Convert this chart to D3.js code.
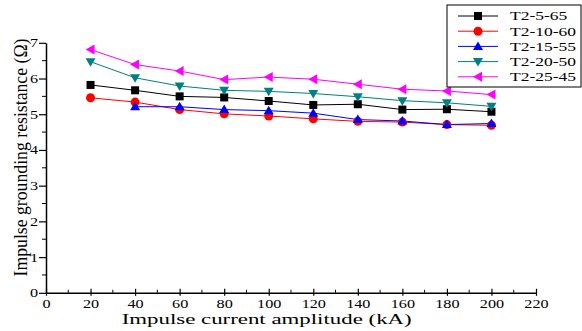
<!DOCTYPE html>
<html><head><meta charset="utf-8">
<script src="https://cdn.jsdelivr.net/npm/d3@7"></script>
<style>body{margin:0;background:#fff}svg{display:block}</style>
</head><body>
<svg id="c" width="582" height="331"></svg>
<script>
const xValues = [20, 40, 60, 80, 100, 120, 140, 160, 180, 200];
const seriesNames = ["T2-5-65", "T2-10-60", "T2-15-55", "T2-20-50", "T2-25-45"];
const t2_5_65  = [5.82, 5.67, 5.50, 5.47, 5.37, 5.26, 5.28, 5.13, 5.14, 5.07];
const t2_10_60 = [5.46, 5.34, 5.13, 5.01, 4.95, 4.87, 4.80, 4.78, 4.71, 4.69];
const t2_15_55 = [null, 5.21, 5.21, 5.13, 5.10, 5.03, 4.85, 4.81, 4.71, 4.74];
const t2_20_50 = [6.47, 6.02, 5.79, 5.67, 5.64, 5.58, 5.49, 5.38, 5.32, 5.22];
const t2_25_45 = [6.81, 6.39, 6.21, 5.97, 6.04, 5.98, 5.84, 5.70, 5.65, 5.55];
const xTicks = [0, 20, 40, 60, 80, 100, 120, 140, 160, 180, 200, 220];
const yTicks = [0, 1, 2, 3, 4, 5, 6, 7];
const colors = ["#000000", "#ff0000", "#0000ff", "#008080", "#ff00ff"];
const symbols = ["square", "circle", "triUp", "triDown", "triLeft"];
const allSeries = [t2_5_65, t2_10_60, t2_15_55, t2_20_50, t2_25_45];

const font = "'Liberation Serif','Times New Roman',serif";
const svg = d3.select("#c");
const x = d3.scaleLinear().domain([0, 220]).range([46, 536]);
const y = d3.scaleLinear().domain([0, 7]).range([292.8, 42.8]);

// minor ticks
const xMinor = d3.range(10, 220, 20);
const yMinor = d3.range(0.5, 7, 1);
svg.append("g").selectAll("line").data(xMinor).join("line")
  .attr("x1", d => x(d)).attr("x2", d => x(d))
  .attr("y1", y(0) - 3).attr("y2", y(0)).attr("stroke", "#000").attr("stroke-width", 1);
svg.append("g").selectAll("line").data(yMinor).join("line")
  .attr("y1", d => y(d)).attr("y2", d => y(d))
  .attr("x1", x(0) - 4).attr("x2", x(0)).attr("stroke", "#000").attr("stroke-width", 1);

// x axis
const gx = svg.append("g").attr("transform", `translate(0,${y(0)})`)
  .call(d3.axisBottom(x).tickValues(xTicks).tickFormat(d3.format("d")).tickSize(3).tickSizeOuter(0));
gx.select(".domain").attr("stroke-width", 1.5);
gx.selectAll(".tick line").attr("y1", -4).attr("y2", 3).attr("stroke-width", 1.2);
gx.selectAll(".tick text").attr("font-family", font).attr("font-size", 12)
  .attr("y", 0).attr("dy", 0).attr("transform", "translate(0,15) scale(1.35,1)").attr("fill", "#000");

// y axis
const gy = svg.append("g").attr("transform", `translate(${x(0)},0)`)
  .call(d3.axisLeft(y).tickValues(yTicks).tickFormat(d3.format("d")).tickSize(7).tickSizeOuter(0));
gy.select(".domain").attr("stroke-width", 1.5);
gy.selectAll(".tick line").attr("stroke-width", 1.2);
gy.selectAll(".tick text").attr("font-family", font).attr("font-size", 12)
  .attr("x", 0).attr("dy", "0.33em").attr("transform", "translate(-8,0) scale(1.35,1)").attr("fill", "#000");

// axis titles
svg.append("text").attr("x", 266.7).attr("y", 324).attr("text-anchor", "middle")
  .attr("font-family", font).attr("font-size", 14)
  .attr("textLength", 290).attr("lengthAdjust", "spacingAndGlyphs")
  .text("Impulse current amplitude (kA)");
svg.append("text").attr("transform", "translate(27,157.5) rotate(-90)").attr("text-anchor", "middle")
  .attr("font-family", font).attr("font-size", 18)
  .attr("textLength", 238).attr("lengthAdjust", "spacingAndGlyphs")
  .text("Impulse grounding resistance (Ω)");

function marker(g, type, color) {
  if (type === "square") g.append("rect").attr("x", -4).attr("y", -4).attr("width", 8).attr("height", 8).attr("fill", color);
  else if (type === "circle") g.append("circle").attr("r", 4.5).attr("fill", color);
  else if (type === "triUp") g.append("path").attr("d", "M0,-5L5,3.5L-5,3.5Z").attr("fill", color);
  else if (type === "triDown") g.append("path").attr("d", "M0,5L5,-3.5L-5,-3.5Z").attr("fill", color);
  else if (type === "triLeft") g.append("path").attr("d", "M-5,0L4,-5L4,5Z").attr("fill", color);
}

const line = d3.line().defined(d => d[1] != null).x(d => x(d[0])).y(d => y(d[1]));
allSeries.forEach((vals, i) => {
  const pts = xValues.map((xv, j) => [xv, vals[j]]);
  svg.append("path").datum(pts).attr("d", line).attr("fill", "none")
    .attr("stroke", colors[i]).attr("stroke-width", 1);
});
allSeries.forEach((vals, i) => {
  xValues.forEach((xv, j) => {
    if (vals[j] == null) return;
    const g = svg.append("g").attr("transform", `translate(${x(xv)},${y(vals[j])})`);
    marker(g, symbols[i], colors[i]);
  });
});

// legend
const lg = svg.append("g");
lg.append("rect").attr("x", 447).attr("y", 5).attr("width", 134).attr("height", 82)
  .attr("fill", "#fff").attr("stroke", "#000").attr("stroke-width", 1);
seriesNames.forEach((name, i) => {
  const cy = 16 + i * 15.2;
  lg.append("line").attr("x1", 458).attr("x2", 498).attr("y1", cy).attr("y2", cy)
    .attr("stroke", colors[i]).attr("stroke-width", 1);
  marker(lg.append("g").attr("transform", `translate(478,${cy})`), symbols[i], colors[i]);
  lg.append("text").attr("transform", `translate(510,${cy}) scale(1.4,1)`).attr("dy", "0.35em")
    .attr("font-family", font).attr("font-size", 12.5).text(name);
});
</script>
</body></html>
